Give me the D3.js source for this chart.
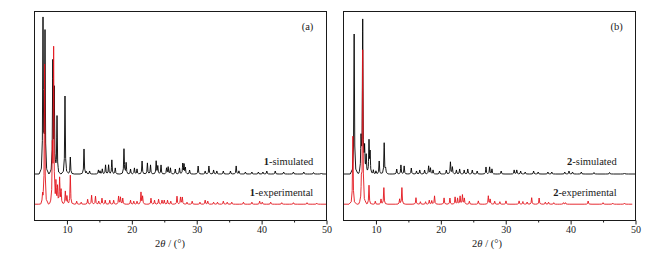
<!DOCTYPE html>
<html><head><meta charset="utf-8">
<script src="https://cdn.jsdelivr.net/npm/d3@7"></script>
<style>body{margin:0;background:#fff}svg{display:block}</style>
</head><body><svg id="c" width="672" height="258"></svg>
<script>
// ---------------- data ----------------
const thetaDomain = [5, 50];
const majorTicks = [10, 20, 30, 40, 50];
const minorTicks = [15, 25, 35, 45];
const panelLabels = ["(a)", "(b)"];
const compoundIds = ["1", "2"];
const seriesNames = ["-simulated", "-experimental"];

// stacking offsets (a.u.) of the simulated / experimental traces
const offsetSim = 46.5;
const offsetExp = 16.3;

// compound 1, simulated: peak positions (2θ, °) and heights (a.u.)
const sim1Pos = [6.31,6.62,7.82,8.05,8.47,9.70,10.52,12.63,13.0,13.49,14.85,15.1,15.45,15.95,16.42,16.92,17.45,18.79,19.12,19.8,20.4,20.8,21.58,22.4,22.88,23.75,24.0,24.5,25.35,25.6,25.95,26.7,27.35,27.85,28.05,28.25,28.9,30.22,31.3,31.88,32.6,33.1,34.1,35.2,36.08,36.5,37.5,38.5,39.5,40.2,40.8,42.1,43.4,44.9,46.5,48.0,49.2];
const sim1Int = [153,140,110,81,57,78,17,25,2,3,4,3,5,9,9,14,6,25,11,5,6,5,13,11,9,13,8,9,6,7,6,5,6,10,9,6,4,8,3,8,4,3,3,3,8,3,2,2,2,2,3,3,2,2,2,1.5,1];
// compound 1, experimental
const exp1Pos = [6.25,6.56,7.75,7.95,8.3,8.55,8.87,9.1,9.75,10.0,10.52,11.5,12.2,13.19,13.8,14.4,14.9,15.4,15.9,16.6,17.2,17.96,18.25,18.6,19.8,20.3,20.8,21.41,21.66,22.95,23.5,24.12,24.65,25.0,25.5,26.0,26.96,27.5,27.78,28.5,29.3,30.5,31.3,31.7,32.6,33.2,34.1,34.7,35.4,37.2,38.5,39.7,40.1,41.4,43.1,44.9,47.0,48.5];
const exp1Int = [8,140,50,153,20,18,26,14,13,8,29,3,2,5,9,8,3,6,4,4,4,8,7,6,4,3,3,12,8,6,4,5,4,4,4,3,8,7,7,2,3,2,4,3,2,2,3,2,2,2,2,3,2,2,1.5,1.5,1.5,1];
// compound 2, simulated
const sim2Pos = [6.64,7.7,7.96,8.25,8.5,8.93,9.1,9.6,10.0,10.5,11.27,11.5,13.2,13.85,14.35,15.45,16.25,16.75,17.5,18.12,18.4,18.8,19.8,20.85,21.48,21.78,22.4,22.9,23.6,24.15,24.85,25.6,26.96,27.52,27.88,29.3,31.3,31.7,32.3,33.0,34.3,35.0,36.5,37.1,39.1,39.75,40.3,41.65,43.6,46.0,48.3];
const sim2Int = [140,35,153,25,18,32,20,4,3,13,31,5,5,9,8,6,3,4,4,8,6,4,3,4,12,7,4,5,4,5,4,3,7,7,5,3,4,4,3,2,3,2,2,2,2,3,2,2,1.5,1.5,1];
// compound 2, experimental
const exp2Pos = [6.44,7.75,7.96,8.93,9.9,10.78,11.22,13.65,14.0,16.17,16.85,17.65,18.22,18.6,19.03,20.5,21.4,22.2,22.58,22.97,23.33,23.62,24.4,25.78,27.32,27.6,28.3,29.1,30.04,32.06,32.65,33.3,34.0,35.15,36.1,36.6,37.4,38.9,39.2,42.7,45.0,46.5,48.3];
const exp2Int = [68,18,153,19,3,5,16.5,5,16.5,6.5,2.5,2.5,4,3.5,8.3,6.3,6.2,7.2,6,8,9.3,6,3,3.3,8.3,5,3,2.5,3.3,3.3,2.7,2.2,6.5,6.2,2,2,1.5,1.5,1.5,3.2,1.5,1,1];
// last recorded angle of each trace
const traceEnd = {sim1: 50, exp1: 50, sim2: 50, exp2: 49.5};

// ---------------- layout / style ----------------
const svg = d3.select("#c");
const W = 672, H = 258;
const plotTop = 11.5, plotBottom = 220.5;
const panels = [
  {x0: 34.5, x1: 326.5, label: panelLabels[0], id: compoundIds[0],
   sim: [sim1Pos, sim1Int, traceEnd.sim1], exp: [exp1Pos, exp1Int, traceEnd.exp1],
   labelRight: 313.3, tagRight: 313.3, titleX: 170},
  {x0: 343.5, x1: 635.5, label: panelLabels[1], id: compoundIds[1],
   sim: [sim2Pos, sim2Int, traceEnd.sim2], exp: [exp2Pos, exp2Int, traceEnd.exp2],
   labelRight: 616.7, tagRight: 622.7, titleX: 487}
];
const y = d3.scaleLinear().domain([0, 209]).range([plotBottom, plotTop]);
const font = "'Liberation Serif','Times New Roman',serif";
const ink = "#1a1a1a";

// peak glyph (fixed drawing shape for one reflection)
const glyphDx = [-0.6, -0.25, -0.1, 0, 0.1, 0.25, 0.6];
const glyphFr = [0, 0.035, 0.2, 1, 0.2, 0.035, 0];

function trace(pos, inten, base, xEnd) {
  const xs = new Set([thetaDomain[0], xEnd]);
  pos.forEach(p => glyphDx.forEach(d => {
    const x = +(p + d).toFixed(4);
    if (x >= thetaDomain[0] && x <= xEnd) xs.add(x);
  }));
  const arr = Array.from(xs).sort((a, b) => a - b);
  return arr.map(x => {
    let v = base;
    pos.forEach((p, i) => {
      const d = x - p;
      if (d <= glyphDx[0] || d >= glyphDx[glyphDx.length - 1]) return;
      for (let k = 0; k < glyphDx.length - 1; k++) {
        if (d >= glyphDx[k] && d <= glyphDx[k + 1]) {
          const t = (d - glyphDx[k]) / (glyphDx[k + 1] - glyphDx[k]);
          v += inten[i] * (glyphFr[k] + t * (glyphFr[k + 1] - glyphFr[k]));
          break;
        }
      }
    });
    return [x, v];
  });
}

panels.forEach((P, pi) => {
  const x = d3.scaleLinear().domain(thetaDomain).range([P.x0, P.x1]);
  const g = svg.append("g");
  const clipId = "clip" + pi;
  g.append("clipPath").attr("id", clipId).append("rect")
    .attr("x", P.x0).attr("y", plotTop).attr("width", P.x1 - P.x0).attr("height", plotBottom - plotTop);

  const line = d3.line().x(d => x(d[0])).y(d => y(d[1]));
  g.append("path").datum(trace(P.sim[0], P.sim[1], offsetSim, P.sim[2]))
    .attr("d", line).attr("fill", "none").attr("stroke", "#000").attr("stroke-width", 0.9)
    .attr("stroke-linejoin", "round").attr("clip-path", `url(#${clipId})`);
  g.append("path").datum(trace(P.exp[0], P.exp[1], offsetExp, P.exp[2]))
    .attr("d", line).attr("fill", "none").attr("stroke", "#e3141c").attr("stroke-width", 0.9)
    .attr("stroke-linejoin", "round").attr("clip-path", `url(#${clipId})`);

  // frame
  g.append("rect").attr("x", P.x0).attr("y", plotTop)
    .attr("width", P.x1 - P.x0).attr("height", plotBottom - plotTop)
    .attr("fill", "none").attr("stroke", ink).attr("stroke-width", 1);

  // axes
  const ax = g.append("g").attr("transform", `translate(0,${plotBottom})`)
    .call(d3.axisBottom(x).tickValues(majorTicks).tickSize(4).tickSizeOuter(0).tickPadding(1.5).tickFormat(d3.format("d")));
  ax.select(".domain").remove();
  ax.selectAll("line").attr("stroke", ink);
  ax.selectAll("text").attr("font-family", font).attr("font-size", 10).attr("fill", ink);
  const mx = g.append("g").attr("transform", `translate(0,${plotBottom})`)
    .call(d3.axisBottom(x).tickValues(minorTicks).tickSize(2).tickSizeOuter(0).tickFormat(""));
  mx.select(".domain").remove();
  mx.selectAll("line").attr("stroke", ink);

  // axis title
  const t = g.append("text").attr("x", P.titleX).attr("y", 246.5).attr("text-anchor", "middle")
    .attr("font-family", font).attr("font-size", 10.5).attr("fill", ink);
  t.append("tspan").text("2");
  t.append("tspan").attr("font-style", "italic").text("θ");
  t.append("tspan").text(" / (°)");

  // panel tag
  g.append("text").attr("x", P.tagRight).attr("y", 30).attr("text-anchor", "end")
    .attr("font-family", font).attr("font-size", 10.5).attr("fill", ink).text(P.label);

  // trace labels
  [[seriesNames[0], 164.5], [seriesNames[1], 196.2]].forEach(([nm, yy]) => {
    const tt = g.append("text").attr("x", P.labelRight).attr("y", yy).attr("text-anchor", "end")
      .attr("font-family", font).attr("font-size", 10.5).attr("fill", ink);
    tt.append("tspan").attr("font-weight", "bold").text(P.id);
    tt.append("tspan").text(nm);
  });
});
</script></body></html>
